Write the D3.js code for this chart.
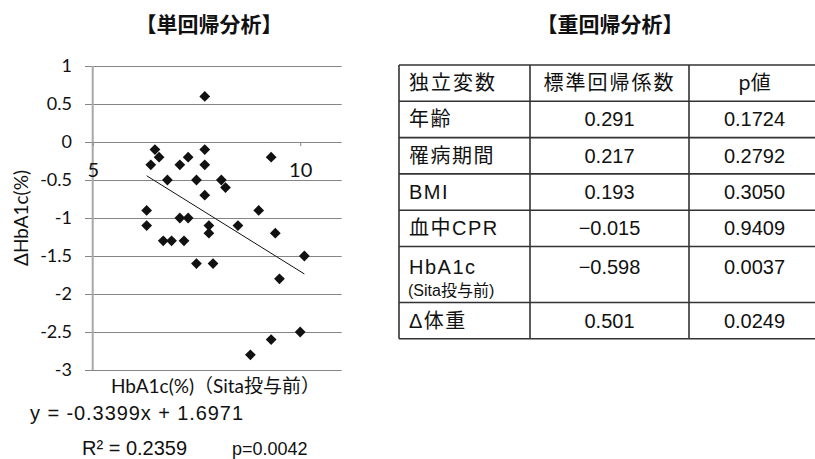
<!DOCTYPE html>
<html>
<head>
<meta charset="utf-8">
<script src="https://cdn.jsdelivr.net/npm/d3@7"></script>
<style>
  html, body { margin: 0; padding: 0; background: #fff; }
  svg { display: block; }
</style>
</head>
<body>
<svg id="fig" width="815" height="459"></svg>
<script>
// Simple regression: HbA1c before sitagliptin vs change in HbA1c
const hba1cBefore = [7.7, 6.5, 6.6, 6.4, 7.3, 7.1, 7.7, 7.7, 6.8, 7.5, 8.1, 8.2, 7.7, 9.3, 6.3, 9.0,
                     7.1, 7.3, 6.3, 7.8, 8.5, 7.8, 9.4, 6.7, 6.9, 7.2, 7.5, 7.9, 10.1, 9.5, 8.8, 9.3, 10.0];
const deltaHba1c  = [0.6, -0.1, -0.2, -0.3, -0.2, -0.3, -0.1, -0.3, -0.5, -0.5, -0.5, -0.6, -0.7, -0.2, -0.9, -0.9,
                     -1.0, -1.0, -1.1, -1.1, -1.1, -1.2, -1.2, -1.3, -1.3, -1.3, -1.6, -1.6, -1.5, -1.8, -2.8, -2.6, -2.5];
const slope = -0.3399;
const intercept = 1.6971;
const rSquared = 0.2359;
const pRegression = "0.0042";
const yTicks = [1, 0.5, 0, -0.5, -1, -1.5, -2, -2.5, -3];
const xTicks = [5, 10];

// Multiple regression table
const headers = ["独立変数", "標準回帰係数", "p値"];
const variables = ["年齢", "罹病期間", "BMI", "血中CPR", "HbA1c", "Δ体重"];
const variableNotes = ["", "", "", "", "(Sita投与前)", ""];
const stdCoefs = [0.291, 0.217, 0.193, -0.015, -0.598, 0.501];
const pValues = [0.1724, 0.2792, 0.3050, 0.9409, 0.0037, 0.0249];

const svg = d3.select("#fig");
const latin = "Lato, 'Noto Sans CJK JP', sans-serif";
const arial = "'Liberation Sans', Arial, 'Noto Sans CJK JP', sans-serif";
const cjk = "'Noto Sans CJK JP', 'Liberation Sans', sans-serif";

// ---------- titles ----------
svg.append("text").attr("x", 209).attr("y", 31.5).attr("text-anchor", "middle")
  .style("font-family", cjk).style("font-weight", "bold").style("font-size", "21px").attr("fill", "#111")
  .text("【単回帰分析】");
svg.append("text").attr("x", 610).attr("y", 31.5).attr("text-anchor", "middle")
  .style("font-family", cjk).style("font-weight", "bold").style("font-size", "21px").attr("fill", "#111")
  .text("【重回帰分析】");

// ---------- scatter plot ----------
const x = d3.scaleLinear().domain([5, 11]).range([92.7, 341.7]);
const y = d3.scaleLinear().domain([-3, 1]).range([370, 66]);
const gridLeft = 85;

// gridlines + y tick labels
const yAxis = d3.axisLeft(y).tickValues(yTicks).tickFormat(d => String(d))
  .tickSize(-(x.range()[1] - gridLeft)).tickPadding(13);
const gy = svg.append("g").attr("transform", `translate(${gridLeft},0)`).call(yAxis);
gy.select(".domain").remove();
gy.selectAll(".tick line").attr("stroke", "#858585").attr("stroke-width", 1);
gy.selectAll(".tick text").style("font-family", latin).style("font-size", "18px").attr("fill", "#111");

// vertical axis line
svg.append("line").attr("x1", x(5)).attr("x2", x(5)).attr("y1", y(1)).attr("y2", y(-3))
  .attr("stroke", "#a8a8a8").attr("stroke-width", 2);

// horizontal axis at y = 0
const xAxis = d3.axisBottom(x).tickValues(xTicks).tickFormat(d => String(d)).tickSize(4).tickPadding(17);
const gx = svg.append("g").attr("transform", `translate(0,${y(0)})`).call(xAxis);
gx.select(".domain").remove();
gx.selectAll(".tick line").attr("stroke", "#858585");
gx.selectAll(".tick text").style("font-family", latin).style("font-size", "20px").attr("fill", "#111");

// trend line over the data range
const xr = d3.extent(hba1cBefore);
svg.append("line")
  .attr("x1", x(xr[0])).attr("y1", y(slope * xr[0] + intercept))
  .attr("x2", x(xr[1])).attr("y2", y(slope * xr[1] + intercept))
  .attr("stroke", "#111").attr("stroke-width", 1);

// diamond markers
const diamond = d3.symbol().type(d3.symbolSquare).size(58);
svg.append("g").selectAll("path").data(hba1cBefore.map((v, i) => [v, deltaHba1c[i]]))
  .join("path")
  .attr("d", diamond)
  .attr("transform", d => `translate(${x(d[0])},${y(d[1])}) rotate(45)`)
  .attr("fill", "#111");

// axis titles
svg.append("text").attr("transform", `translate(28,${(y(1) + y(-3)) / 2}) rotate(-90)`)
  .attr("text-anchor", "middle")
  .style("font-family", latin).style("font-size", "19px").attr("fill", "#111")
  .text("ΔHbA1c(%)");
svg.append("text").attr("x", 215.5).attr("y", 393).attr("text-anchor", "middle")
  .style("font-family", latin).style("font-size", "19px").attr("fill", "#111")
  .text("HbA1c(%)（Sita投与前）");

// regression equation
svg.append("text").attr("x", 30).attr("y", 420)
  .style("font-family", arial).style("font-size", "20px").attr("fill", "#111")
  .attr("textLength", 213).attr("lengthAdjust", "spacing")
  .text(`y = ${slope}x + ${intercept}`);
svg.append("text").attr("x", 82).attr("y", 455)
  .style("font-family", arial).style("font-size", "20px").attr("fill", "#111")
  .text(`R² = ${rSquared}`);
svg.append("text").attr("x", 232).attr("y", 455)
  .style("font-family", arial).style("font-size", "18px").attr("fill", "#111")
  .text(`p=${pRegression}`);

// ---------- table ----------
const colX = [399, 530, 689, 820];
const tableTop = 65;
const rowH = 36.3, tallRowH = 56;
const rowHeights = [rowH].concat(variables.map((v, i) => variableNotes[i] ? tallRowH : rowH));
const rowY = [tableTop];
rowHeights.forEach(h => rowY.push(rowY[rowY.length - 1] + h));

const tbl = svg.append("g");
const lineColor = "#333";
rowY.forEach(yy => tbl.append("line").attr("x1", colX[0]).attr("x2", colX[3]).attr("y1", yy).attr("y2", yy)
  .attr("stroke", lineColor).attr("stroke-width", 1.6));
colX.forEach(xx => tbl.append("line").attr("x1", xx).attr("x2", xx).attr("y1", rowY[0]).attr("y2", rowY[rowY.length - 1])
  .attr("stroke", lineColor).attr("stroke-width", 1.6));

const colCenter = i => (colX[i] + colX[i + 1]) / 2;
const padL = 10;

// header row
const hBase = rowY[0] + rowHeights[0] / 2 + 7;
tbl.append("text").attr("x", colX[0] + padL).attr("y", hBase)
  .style("font-family", cjk).style("font-size", "20px").style("letter-spacing", "2px").attr("fill", "#111").text(headers[0]);
tbl.append("text").attr("x", colCenter(1)).attr("y", hBase).attr("text-anchor", "middle")
  .style("font-family", cjk).style("font-size", "20px").style("letter-spacing", "2px").attr("fill", "#111").text(headers[1]);
tbl.append("text").attr("x", colCenter(2)).attr("y", hBase).attr("text-anchor", "middle")
  .style("font-family", cjk).style("font-size", "20px").attr("fill", "#111").text(headers[2]);

const fmtCoef = v => (v < 0 ? "−" : "") + Math.abs(v).toFixed(3);
variables.forEach((name, i) => {
  const top = rowY[i + 1];
  const base = variableNotes[i] ? top + 27 : top + rowHeights[i + 1] / 2 + 7;
  tbl.append("text").attr("x", colX[0] + padL).attr("y", base)
    .style("font-family", arial).style("font-size", "20px").style("letter-spacing", "1.5px").attr("fill", "#111").text(name);
  if (variableNotes[i]) {
    tbl.append("text").attr("x", colX[0] + padL - 1).attr("y", top + 49)
      .style("font-family", arial).style("font-size", "16px").attr("fill", "#111").text(variableNotes[i]);
  }
  tbl.append("text").attr("x", colCenter(1)).attr("y", base).attr("text-anchor", "middle")
    .style("font-family", arial).style("font-size", "20px").attr("fill", "#111").text(fmtCoef(stdCoefs[i]));
  tbl.append("text").attr("x", colCenter(2)).attr("y", base).attr("text-anchor", "middle")
    .style("font-family", arial).style("font-size", "20px").attr("fill", "#111").text(pValues[i].toFixed(4));
});
</script>
</body>
</html>
